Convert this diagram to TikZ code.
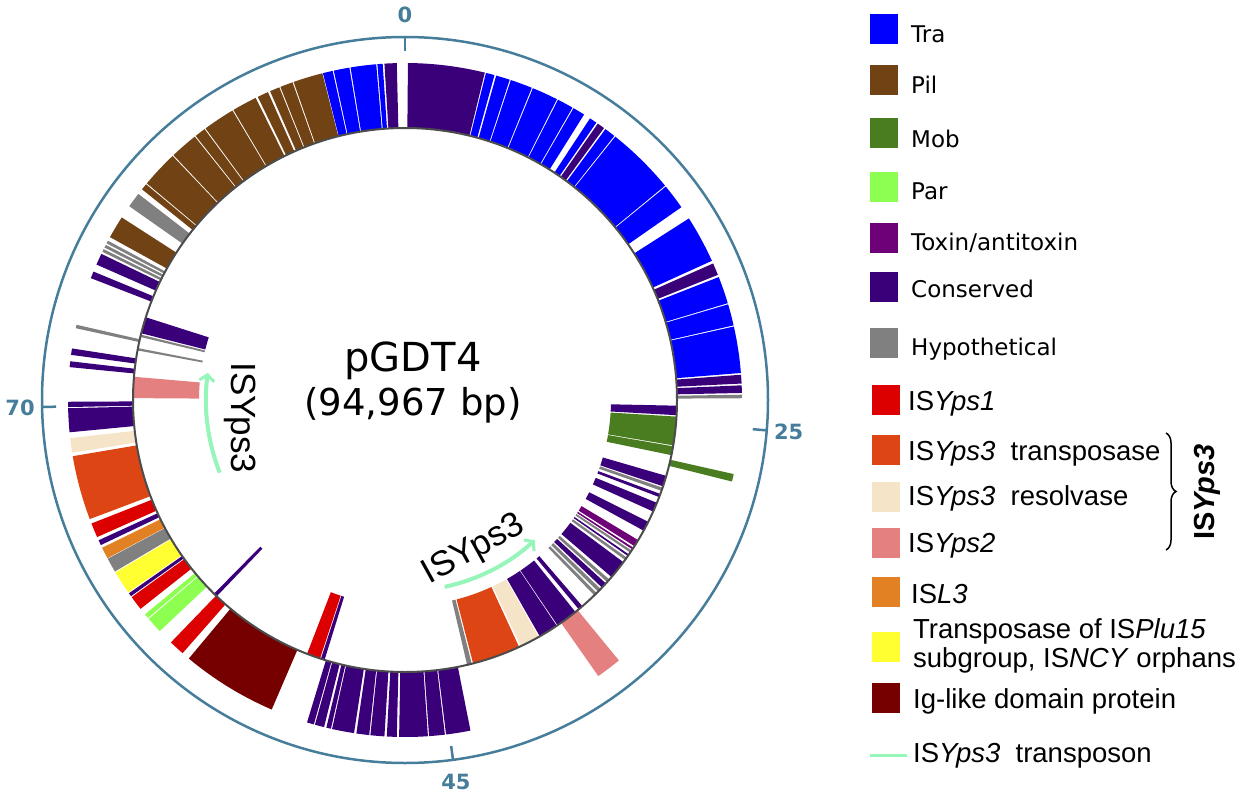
\documentclass[tikz,border=0pt]{standalone}
\usepackage{fontspec}
\setmainfont{Liberation Sans}
\newfontfamily\dejavu{DejaVu Sans}
\usepackage{tikz}
\usetikzlibrary{arrows,arrows.meta,positioning,decorations.pathreplacing}
\definecolor{tra}{RGB}{0,0,255}
\definecolor{pil}{RGB}{112,66,20}
\definecolor{mob}{RGB}{74,124,32}
\definecolor{par}{RGB}{140,255,80}
\definecolor{tox}{RGB}{110,0,120}
\definecolor{cons}{RGB}{58,0,122}
\definecolor{hyp}{RGB}{128,128,128}
\definecolor{isyone}{RGB}{220,0,0}
\definecolor{isytp}{RGB}{221,70,20}
\definecolor{isyres}{RGB}{245,228,200}
\definecolor{isytwo}{RGB}{228,128,128}
\definecolor{isl}{RGB}{226,128,36}
\definecolor{plu}{RGB}{255,255,50}
\definecolor{ig}{RGB}{118,0,0}
\definecolor{tnp}{RGB}{150,245,185}
\definecolor{rulerblue}{RGB}{70,125,155}
\tikzstyle{swatch} = [minimum width=28pt, minimum height=30pt, inner sep=0pt]
\tikzstyle{legA} = [anchor=base west, inner sep=0pt, font=\dejavu\fontsize{23}{27}\selectfont]
\tikzstyle{legB} = [anchor=base west, inner sep=0pt, font=\fontsize{27.5}{32}\selectfont]
\newcommand{\arcblock}[5]{%
  \fill[fill=#3] (#1-90:#4) arc[start angle=#1-90,end angle=#2-90,radius=#4]%
    -- (#2-90:#5) arc[start angle=#2-90,end angle=#1-90,radius=#5] -- cycle;}

\begin{document}
\begin{tikzpicture}[x=1pt,y=-1pt]
    \tikzstyle{ruler}=[line width=2.5pt,draw=rulerblue]
    \tikzstyle{ticklab}=[text=rulerblue,font=\dejavu\bfseries\fontsize{21}{25}\selectfont]
    \tikzstyle{tnline}=[line width=4pt,draw=tnp,-{Straight Barb[length=6pt,width=15pt,line width=3pt]}]
    \tikzstyle{tnlabel}=[font=\fontsize{35}{40}\selectfont,inner sep=0pt]
    \useasboundingbox (0,0) rectangle (1243,800);
    \begin{scope}[shift={(405,400)}]
      \foreach \a/\b/\c in {0.5/13.7/cons, 13.9/15.4/tra, 15.7/18.1/tra, 18.3/22.1/tra,
        22.3/26.8/tra, 27.0/29.8/tra, 30.0/32.1/tra, 33.3/34.6/tra, 34.9/36.2/cons,
        36.5/38.4/tra, 38.6/50.5/tra, 50.7/55.1/tra, 57.4/65.6/tra, 66.1/68.2/cons,
        68.6/73.3/tra, 73.5/77.2/tra, 77.4/85.4/tra, 85.7/87.2/cons, 87.5/88.8/cons,
        89.1/89.7/hyp, 102.7/104.0/mob, 140.6/145.0/isytwo,
        168.8/173.0/cons, 173.2/175.9/cons, 176.1/181.0/cons, 181.4/183.1/cons,
        183.5/185.9/cons, 186.1/188.3/cons, 188.7/192.5/cons, 192.7/193.5/cons,
        193.9/195.5/cons, 195.7/196.9/cons, 203.3/219.9/ig, 221.3/224.0/isyone,
        226.7/229.5/par, 229.7/230.5/par, 231.7/234.2/isyone, 234.4/235.0/cons,
        235.2/239.2/plu, 239.4/241.9/hyp, 242.0/244.0/isl, 244.5/245.4/cons,
        246.0/248.5/isyone, 249.3/260.4/isytp, 261.0/263.5/isyres, 264.5/268.6/cons,
        268.8/269.7/cons, 275.6/276.6/cons, 277.7/278.8/cons, 282.3/282.9/hyp,
        291.2/292.4/cons, 293.7/295.7/cons, 296.1/296.6/hyp, 296.9/297.4/hyp,
        297.7/298.2/hyp, 298.9/302.8/pil, 305.1/307.7/hyp, 308.7/309.8/pil,
        310.0/316.4/pil, 316.6/321.4/pil, 321.6/323.5/pil, 323.7/329.2/pil,
        329.4/333.7/pil, 334.1/336.0/pil, 336.4/338.1/pil, 338.3/340.5/pil,
        340.7/345.8/pil, 345.9/347.6/tra, 347.8/350.5/tra, 350.7/355.1/tra,
        355.3/356.2/tra, 356.5/358.6/cons}
        {\arcblock{\a}{\b}{\c}{272}{337}}
      \foreach \a/\b/\c in {91.2/93.2/cons, 93.5/99.6/mob, 99.8/101.7/mob,
        106.2/108.5/cons, 108.8/109.5/hyp, 110.2/110.9/cons, 112.2/114.2/cons,
        116.6/118.7/cons, 121.0/122.5/tox, 122.9/123.3/tox, 123.6/124.1/hyp,
        124.6/125.0/cons, 125.4/126.0/hyp, 126.6/130.6/cons, 131.3/132.0/hyp,
        132.4/133.6/cons, 134.0/134.8/hyp, 135.2/135.9/hyp, 139.3/140.3/cons,
        141.2/145.9/cons, 146.1/150.3/cons, 150.6/154.8/isyres, 155.2/165.5/isytp,
        165.8/166.8/hyp, 197.2/198.0/cons, 198.2/201.1/isyone, 223.8/224.6/cons,
        270.4/274.9/isytwo, 280.5/281.0/hyp, 283.4/283.9/hyp, 284.2/287.7/cons}
        {\arcblock{\a}{\b}{\c}{206}{272}}
      \draw[line width=2pt,draw=black!70] (0,0) circle[radius=272];
      \draw[ruler] (0,0) circle[radius=363];
      \foreach \t/\lab in {0/0,94.8/25,172.4/45,268.9/70}{
        \draw[ruler] (\t-90:349) -- (\t-90:363);
        \node[ticklab] (t\lab) at (\t-90:385) {\lab};}
      \draw[tnline] (158.6:199) arc[start angle=158.6,end angle=187.8,radius=199];
      \draw[tnline] (78:191) arc[start angle=78,end angle=47.2,radius=191];
    \end{scope}

    \node[font=\dejavu\fontsize{40}{48}\selectfont,anchor=base] (pname) at (413,371) {pGDT4};
    \node[font=\dejavu\fontsize{37}{44}\selectfont,anchor=base] (psize) at (413,415) {(94,967 bp)};
    \node[tnlabel,rotate=-90] (tnleft) at (240,418) {ISYps3};
    \node[tnlabel,rotate=29] (tnbottom) at (474,550) {ISYps3};

    \node[swatch,fill=tra] (stra) at (884,29) {};
    \node[legA] (ltra) at (911,43) {Tra};
    \node[swatch,fill=pil] (spil) at (884,80) {};
    \node[legA] (lpil) at (911,93) {Pil};
    \node[swatch,fill=mob] (smob) at (884,133) {};
    \node[legA] (lmob) at (911,147) {Mob};
    \node[swatch,fill=par] (spar) at (884,186.5) {};
    \node[legA] (lpar) at (911,199) {Par};
    \node[swatch,fill=tox] (stox) at (884,237.5) {};
    \node[legA] (ltox) at (911,250) {Toxin/antitoxin};
    \node[swatch,fill=cons] (scons) at (884,286.5) {};
    \node[legA] (lcons) at (911,297) {Conserved};
    \node[swatch,fill=hyp] (shyp) at (884,343) {};
    \node[legA] (lhyp) at (911,355) {Hypothetical};
    \node[swatch,fill=isyone] (sone) at (886,400) {};
    \node[legB] (lone) at (908,410) {IS\textit{Yps1}};
    \node[swatch,fill=isytp] (stp) at (886,450) {};
    \node[legB] (ltp) at (908,460) {IS\textit{Yps3}\ \ transposase};
    \node[swatch,fill=isyres] (sres) at (886,496.5) {};
    \node[legB] (lres) at (908,505) {IS\textit{Yps3}\ \ resolvase};
    \node[swatch,fill=isytwo] (stwo) at (886,542.5) {};
    \node[legB] (ltwo) at (908,552) {IS\textit{Yps2}};
    \node[swatch,fill=isl] (sisl) at (886,592) {};
    \node[legB] (lisl) at (911,603) {IS\textit{L3}};
    \node[swatch,fill=plu] (splu) at (886,647) {};
    \node[legB] (lplua) at (913,638) {Transposase of IS\textit{Plu15}};
    \node[legB] (lplub) at (913,667) {subgroup, IS\textit{NCY} orphans};
    \node[swatch,fill=ig] (sig) at (886,698) {};
    \node[legB] (lig) at (913,708) {Ig-like domain protein};
    \coordinate (tnA) at (870,755);
    \coordinate (tnB) at (907,755);
    \draw[line width=3pt,draw=tnp] (tnA) -- (tnB);
    \node[legB] (ltn) at (913,762) {IS\textit{Yps3}\ \ transposon};

    \coordinate (brA) at (1166,433);
    \coordinate (brB) at (1166,550);
    \draw[line width=1.5pt,decorate,decoration={brace,amplitude=10pt}] (brA) -- (brB);
    \node[font=\bfseries\fontsize{29}{34}\selectfont,rotate=90] (lgroup) at (1207,492) {IS\textit{Yps3}};
\end{tikzpicture}
\end{document}
